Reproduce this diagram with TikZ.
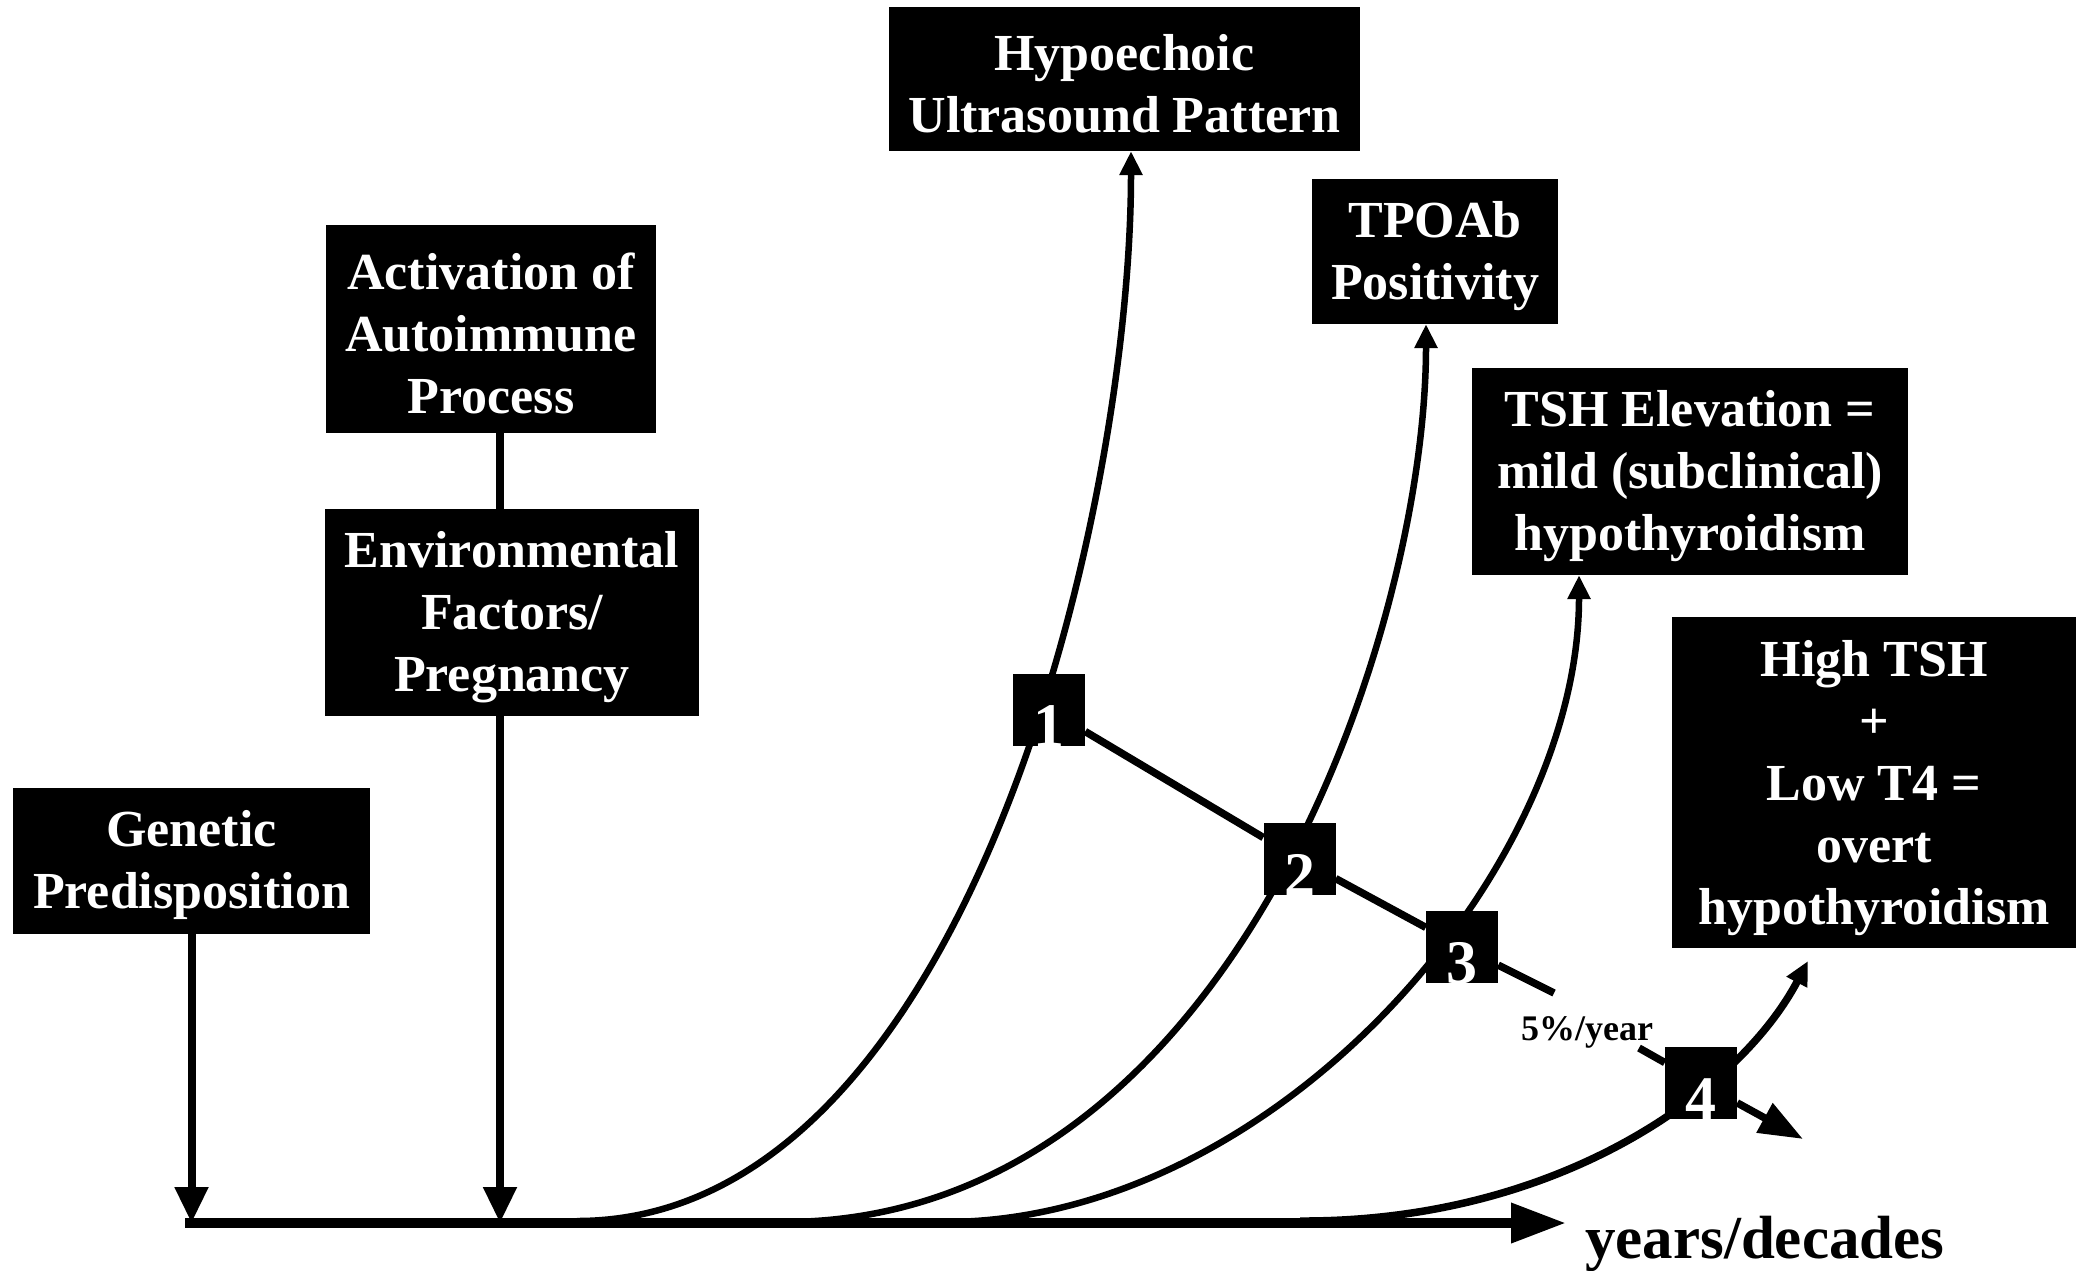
\documentclass[tikz,border=0pt]{standalone}
\usepackage{fontspec}
\setmainfont{Liberation Serif}
\usetikzlibrary{arrows.meta}
\pgfdeclarelayer{bg}
\pgfsetlayers{bg,main}
\newcommand{\firstln}{\rule{0pt}{45pt}}
\begin{document}
\begin{tikzpicture}[x=1pt,y=-1pt,
  box/.style={rectangle, fill=black, text=white, inner sep=0pt, align=center,
    font=\fontsize{52}{62}\selectfont\bfseries},
  numbox/.style={rectangle, fill=black, minimum width=72pt, minimum height=72pt, inner sep=0pt},
  numtxt/.style={text=white, inner sep=0pt, anchor=base, font=\fontsize{62}{62}\selectfont\bfseries},
  vline/.style={line width=8pt},
  varrow/.style={line width=8pt, -{Triangle[length=36pt,width=32pt]}},
  curvearrow/.style={line width=6.5pt, -{Triangle[length=24pt,width=22pt]}},
  diag/.style={line width=7.5pt}]
\useasboundingbox (0,0) rectangle (2076,1270);

% boxes
\node[box, minimum width=471pt, minimum height=144pt] (hypo) at (1124.5,79) {\firstln Hypoechoic\\Ultrasound Pattern};
\node[box, minimum width=246pt, minimum height=145pt] (tpo) at (1435,251.5) {\firstln TPOAb\\Positivity};
\node[box, minimum width=436pt, minimum height=207pt] (tsh) at (1690,471.5) {\firstln TSH Elevation =\\mild (subclinical)\\hypothyroidism};
\node[box, minimum width=404pt, minimum height=331pt] (high) at (1874,782.5) {\rule{0pt}{48pt}High TSH\\+\\Low T4 =\\overt\\hypothyroidism};
\node[box, minimum width=330pt, minimum height=208pt] (act) at (491,329) {\firstln Activation of\\Autoimmune\\Process};
\node[box, minimum width=374pt, minimum height=207pt] (env) at (512,612.5) {\firstln Environmental\\Factors/\\Pregnancy};
\node[box, minimum width=357pt, minimum height=146pt] (gen) at (191.5,861) {\firstln Genetic\\Predisposition};

% numbered boxes
\node[numbox] (n1) at (1049,710) {};
\node[numtxt] (t1) at (n1.south) {1};
\node[numbox] (n2) at (1299.5,859) {};
\node[numtxt] (t2) at (n2.south) {2};
\node[numbox] (n3) at (1462,947) {};
\node[numtxt] (t3) at (n3.south) {3};
\node[numbox] (n4) at (1701,1083) {};
\node[numtxt] (t4) at (n4.south) {4};

% labels
\node[font=\fontsize{36}{36}\selectfont\bfseries, anchor=base west, inner sep=0pt] (rate) at (1521,1040) {5\%/year};
\node[font=\fontsize{61}{61}\selectfont\bfseries, anchor=base west, inner sep=0pt] (axlab) at (1585,1258) {years/decades};

% coordinates
\coordinate (ax0) at (185,1223);
\coordinate (ax1) at (1566,1223);
\coordinate (ex) at (500,1223);
\coordinate (c1s) at (577,1221);
\coordinate (c2s) at (783,1222);
\coordinate (c3s) at (944,1222);
\coordinate (c4s) at (1300,1221);
\coordinate (c4e) at (1808,961);
\coordinate (gapA) at (1554,993);
\coordinate (gapB) at (1639,1048);
\coordinate (dend) at (1803,1139);

\begin{pgfonlayer}{bg}
  \fill[white] (0,0) rectangle (2076,1270);
  % time axis
  \draw[line width=10pt, -{Triangle[length=55pt,width=38pt]}] (ax0) -- (ax1);
  % vertical arrows
  \draw[varrow] (gen.south) -- (gen.south |- ax0);
  \draw[vline] (act.south -| ex) -- (env.north -| ex);
  \draw[varrow] (env.south -| ex) -- (ex);
  % rising curves
  \draw[curvearrow] (c1s) .. controls (966,1221) and (1131,512) .. ([xshift=6.5pt]hypo.south);
  \draw[curvearrow] (c2s) .. controls (1233,1222) and (1426,629) .. ([xshift=-9pt]tpo.south);
  \draw[curvearrow] (c3s) .. controls (1274,1222) and (1579,872) .. ([xshift=-111pt]tsh.south);
  \draw[curvearrow, line width=7.5pt] (c4s) .. controls (1560,1222) and (1740,1090) .. (c4e);
  % diagonal progression line
  \draw[diag] (n1) -- (n2) -- (n3) -- (gapA);
  \draw[diag, -{Triangle[length=44pt,width=32pt]}] (gapB) -- (n4) -- (dend);
\end{pgfonlayer}
\end{tikzpicture}
\end{document}
